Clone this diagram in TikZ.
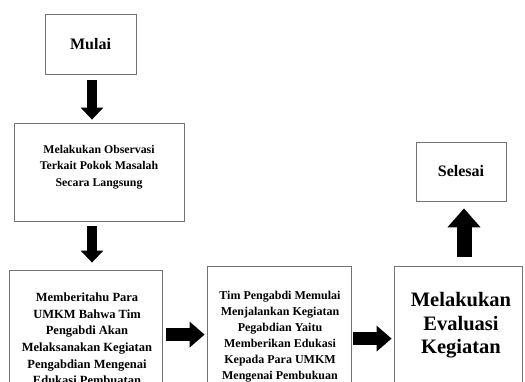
\documentclass[tikz,border=0pt]{standalone}
\usepackage{fontspec}
\setmainfont{Liberation Serif}
\usetikzlibrary{arrows.meta,calc}
\begin{document}
\begin{tikzpicture}[x=1pt,y=-1pt,
  box/.style={draw=black!55, line width=0.8pt, inner sep=0pt, rectangle},
  txt/.style={align=center, inner sep=0pt, text=black},
  darr/.style={line width=10pt, -{Triangle[length=12pt 0 0,width=22pt 0 0]}},
  rarr/.style={line width=12.5pt, -{Triangle[length=15pt 0 0,width=25pt 0 0]}},
  uarr/.style={line width=15pt, -{Triangle[length=19pt 0 0,width=32pt 0 0]}}
]
\useasboundingbox (0,0) rectangle (525,382);
\clip (0,0) rectangle (525,382);

\node[box, minimum width=91pt, minimum height=60pt,
      font=\bfseries\fontsize{16}{19}\selectfont] (mulai) at (90.5,44) {Mulai};

\node[box, minimum width=170pt, minimum height=98pt] (obs) at (99,172) {};
\node[txt, font=\bfseries\fontsize{11.8}{16.5}\selectfont] (obstext) at (99,167)
  {Melakukan Observasi\\Terkait Pokok Masalah\\Secara Langsung};

\node[box, minimum width=153pt, minimum height=200pt] (mem) at (85.5,370) {};
\node[txt, anchor=north, font=\bfseries\fontsize{12.5}{16.7}\selectfont] (memtext) at (87,292.5)
  {Memberitahu Para\\UMKM Bahwa Tim\\Pengabdi Akan\\Melaksanakan Kegiatan\\Pengabdian Mengenai\\Edukasi Pembuatan};

\node[box, minimum width=144pt, minimum height=200pt] (tim) at (279,366) {};
\node[txt, anchor=north, font=\bfseries\fontsize{12}{16}\selectfont] (timtext) at (280,290.5)
  {Tim Pengabdi Memulai\\Menjalankan Kegiatan\\Pegabdian Yaitu\\Memberikan Edukasi\\Kepada Para UMKM\\Mengenai Pembukuan};

\node[box, minimum width=128pt, minimum height=200pt] (eval) at (458,366) {};
\node[txt, anchor=north, font=\bfseries\fontsize{20.5}{23.5}\selectfont] (evaltext) at (461,292.5)
  {Melakukan\\Evaluasi\\Kegiatan};

\node[box, minimum width=90pt, minimum height=59pt,
      font=\bfseries\fontsize{16}{19}\selectfont] (selesai) at (461,171.5) {Selesai};

\draw[darr, shorten <=6pt, shorten >=3pt]
  ([xshift=1.5pt]mulai.south) -- ([xshift=1.5pt]mulai.south |- obs.north);
\draw[darr, shorten <=5pt, shorten >=7pt]
  ([xshift=1.5pt]mulai.south |- obs.south) -- ([xshift=1.5pt]mulai.south |- mem.north);
\draw[rarr, shorten <=4pt, shorten >=2pt]
  ([yshift=-65pt]mem.north east) -- ([yshift=-65pt]mem.north east -| tim.west);
\draw[rarr, shorten <=2pt, shorten >=2pt]
  ([yshift=-73pt]tim.north east) -- ([yshift=-73pt]tim.north east -| eval.west);
\draw[uarr, shorten <=9pt, shorten >=7pt]
  ([xshift=6pt]eval.north) -- ([xshift=3pt]selesai.south);
\end{tikzpicture}
\end{document}
